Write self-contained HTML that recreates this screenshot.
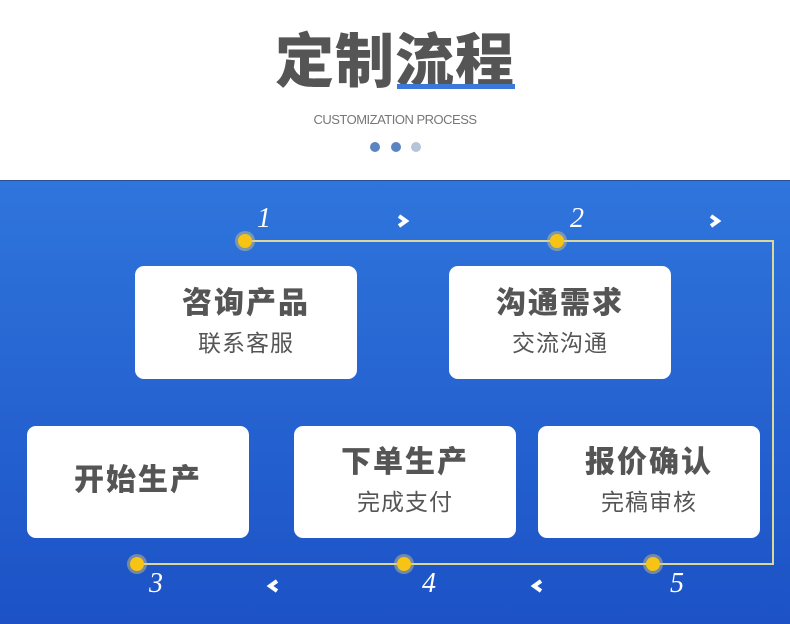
<!DOCTYPE html>
<html><head><meta charset="utf-8"><style>
*{margin:0;padding:0;box-sizing:border-box}
body{width:790px;height:624px;overflow:hidden;background:#fff;position:relative;font-family:"Liberation Sans","Noto Sans CJK SC",sans-serif}
.title{position:absolute;left:0;width:790px;top:24px;text-align:center;font-size:59px;font-weight:900;color:#555;letter-spacing:1px;line-height:76px}
.ul{position:absolute;left:397px;top:84px;width:118px;height:5px;background:#3b78d8}
.sub{position:absolute;left:0;width:790px;top:112px;text-align:center;font-size:13px;color:#777;letter-spacing:-0.5px}
.d{position:absolute;top:142px;width:10px;height:10px;border-radius:50%}
.blue{position:absolute;left:0;top:180px;width:790px;height:444px;background:linear-gradient(#2f75dc,#1c52c6);border-top:1px solid #2a4f99}
.box{position:absolute;width:222px;background:#fff;border-radius:9px;text-align:center;color:#555}
.box b{display:block;font-size:30px;font-weight:900;line-height:36px;letter-spacing:2px}
.box span{display:block;font-size:23px;line-height:30px;color:#555;margin-top:6px;letter-spacing:1px}
.ln{position:absolute;background:#d9d79c}
.dot{position:absolute;width:14px;height:14px;border-radius:50%;background:#f7c415;box-shadow:0 0 0 3px rgba(220,200,120,.45)}
.n{position:absolute;font-family:"Liberation Serif",serif;font-style:italic;color:#fff;font-size:28px;line-height:28px}
.ch{position:absolute}
</style></head><body>
<div class="title">定制流程</div>
<div class="ul"></div>
<div class="sub">CUSTOMIZATION PROCESS</div>
<div class="d" style="left:370px;background:#5b84c2"></div>
<div class="d" style="left:391px;background:#5b84c2"></div>
<div class="d" style="left:411px;background:#b6c3d8"></div>
<div class="blue"></div>
<div class="ln" style="left:245px;top:240px;width:529px;height:2px"></div>
<div class="ln" style="left:772px;top:240px;width:2px;height:325px"></div>
<div class="ln" style="left:137px;top:563px;width:637px;height:2px"></div>
<div class="box" style="left:135px;top:266px;height:113px;padding-top:20px"><b>咨询产品</b><span>联系客服</span></div>
<div class="box" style="left:449px;top:266px;height:113px;padding-top:20px"><b>沟通需求</b><span>交流沟通</span></div>
<div class="box" style="left:27px;top:426px;height:112px;padding-top:37px"><b>开始生产</b></div>
<div class="box" style="left:294px;top:426px;height:112px;padding-top:19px"><b>下单生产</b><span>完成支付</span></div>
<div class="box" style="left:538px;top:426px;height:112px;padding-top:19px"><b>报价确认</b><span>完稿审核</span></div>
<div class="dot" style="left:238px;top:234px"></div>
<div class="dot" style="left:550px;top:234px"></div>
<div class="dot" style="left:130px;top:557px"></div>
<div class="dot" style="left:397px;top:557px"></div>
<div class="dot" style="left:646px;top:557px"></div>
<div class="n" style="left:257px;top:205px">1</div>
<div class="n" style="left:570px;top:205px">2</div>
<div class="n" style="left:149px;top:570px">3</div>
<div class="n" style="left:422px;top:570px">4</div>
<div class="n" style="left:670px;top:570px">5</div>
<svg class="ch" style="left:396px;top:214px" width="14" height="14"><polyline points="3,2 10,7 3,12" fill="none" stroke="#fff" stroke-width="4"/></svg>
<svg class="ch" style="left:708px;top:214px" width="14" height="14"><polyline points="3,2 10,7 3,12" fill="none" stroke="#fff" stroke-width="4"/></svg>
<svg class="ch" style="left:266px;top:579px" width="14" height="14"><polyline points="11,2 4,7 11,12" fill="none" stroke="#fff" stroke-width="4"/></svg>
<svg class="ch" style="left:530px;top:579px" width="14" height="14"><polyline points="11,2 4,7 11,12" fill="none" stroke="#fff" stroke-width="4"/></svg>
</body></html>
